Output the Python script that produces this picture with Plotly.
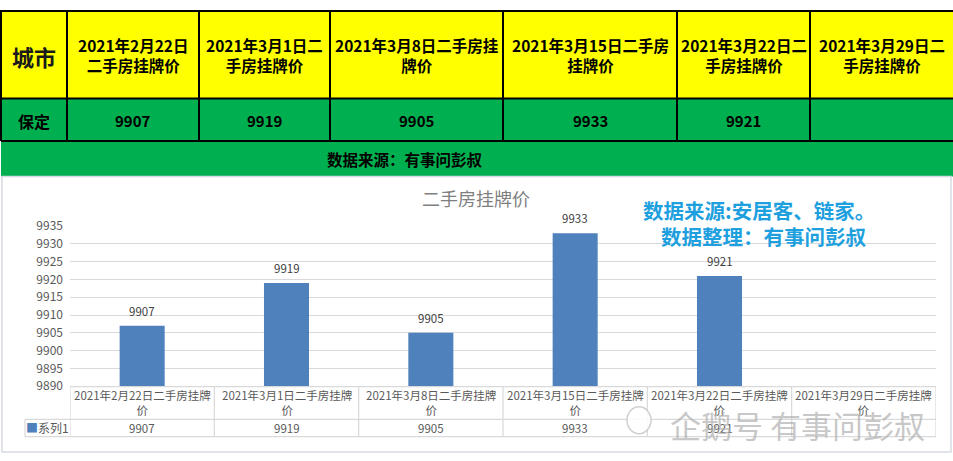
import plotly.graph_objects as go

W, H = 953, 461

# ---------------- data ----------------
city = ["保定"]
corner_label = "城市"
header_labels = [
    "2021年2月22日<br>二手房挂牌价",
    "2021年3月1日二<br>手房挂牌价",
    "2021年3月8日二手房挂<br>牌价",
    "2021年3月15日二手房<br>挂牌价",
    "2021年3月22日二<br>手房挂牌价",
    "2021年3月29日二<br>手房挂牌价",
]
categories = [
    "2021年2月22日二手房挂牌价",
    "2021年3月1日二手房挂牌价",
    "2021年3月8日二手房挂牌价",
    "2021年3月15日二手房挂牌价",
    "2021年3月22日二手房挂牌价",
    "2021年3月29日二手房挂牌价",
]
prices = [9907, 9919, 9905, 9933, 9921, None]
y_ticks = [9890, 9895, 9900, 9905, 9910, 9915, 9920, 9925, 9930, 9935]
series_name = "系列1"
chart_title = "二手房挂牌价"
banner_text = "数据来源：有事问彭叔"
note_lines = ["数据来源:安居客、链家。", "数据整理：有事问彭叔"]
watermark = "企鹅号 有事问彭叔"

# ---------------- helpers ----------------
FONT = "Noto Sans CJK SC"
def X(px):
    return px / W
def Y(py):
    return 1 - py / H

shapes = []
annotations = []

def rect(x0, y0, x1, y1, fill=None, line=None, lw=1, layer="below", kind="rect"):
    shapes.append(dict(type=kind, xref="paper", yref="paper",
                       x0=X(x0), x1=X(x1), y0=Y(y0), y1=Y(y1),
                       fillcolor=fill if fill else "rgba(0,0,0,0)",
                       line=dict(color=line if line else "rgba(0,0,0,0)", width=lw if line else 0),
                       layer=layer))

def hline(x0, x1, y, color, lw, xref="paper"):
    shapes.append(dict(type="line", xref=xref, yref="paper",
                       x0=X(x0) if xref == "paper" else x0,
                       x1=X(x1) if xref == "paper" else x1,
                       y0=Y(y), y1=Y(y), line=dict(color=color, width=lw), layer="above"))

def vline(x, y0, y1, color, lw, xref="paper"):
    xv = X(x) if xref == "paper" else x
    shapes.append(dict(type="line", xref=xref, yref="paper",
                       x0=xv, x1=xv, y0=Y(y0), y1=Y(y1),
                       line=dict(color=color, width=lw), layer="above"))

def text(x, y, s, size, color, bold=False, xanchor="center", xref="paper", yshift=0, family=FONT):
    annotations.append(dict(xref=xref, yref="paper",
                            x=X(x) if xref == "paper" else x, y=Y(y),
                            text=f"<b>{s}</b>" if bold else s,
                            showarrow=False, xanchor=xanchor, yanchor="middle",
                            font=dict(family=family, size=size, color=color),
                            align="center", yshift=yshift))

# ---------------- top table ----------------
col_edges = [1, 67, 199, 330, 503, 677, 810, 953]
rect(1, 0, 953, 92, fill="#FFFF00")
rect(1, 92, 953, 173, fill="#00B050")
for yy in [1, 92, 136]:
    hline(1, 953, yy, "#000000", 2)
for xx in col_edges[:-1]:
    vline(xx, 0, 136, "#000000", 2)

text((col_edges[0] + col_edges[1]) / 2, 48, corner_label, 22, "#1a1a1a", bold=True)
text((col_edges[0] + col_edges[1]) / 2, 115, city[0], 16, "#000000", bold=True)
for i, lab in enumerate(header_labels):
    cx = (col_edges[i + 1] + col_edges[i + 2]) / 2
    text(cx, 47, lab, 15.5, "#000000", bold=True)
    if prices[i] is not None:
        text(cx, 115, str(prices[i]), 15, "#000000", bold=True)

text(405, 155, banner_text, 15.5, "#000000", bold=True)

# ---------------- chart area ----------------
rect(2, 173, 951, 459, line="#D6DAE3", lw=1.5)
text(476, 195, chart_title, 18, "#7F7F7F")
text(759, 208, note_lines[0], 20.5, "#1E9FDE", bold=True)
text(763, 235, note_lines[1], 20.5, "#1E9FDE", bold=True)

# data labels above bars
for c, v in zip(categories, prices):
    if v is None:
        continue
    annotations.append(dict(xref="x", yref="y", x=c, y=v, text=str(v), showarrow=False,
                            yanchor="middle", yshift=15,
                            font=dict(family=FONT, size=11.5, color="#404040")))

# data table under the chart
GRID = "#D9D9D9"
n = len(categories)
hline(-0.5, n - 0.5, 391, GRID, 1.2, xref="x")
hline(25, 936, 425, GRID, 1.2)
hline(25, 936, 443, GRID, 1.2)
for k in range(n + 1):
    vline(k - 0.5, 391, 443, GRID, 1.2, xref="x")
vline(25, 425, 443, GRID, 1.2)

for c, v in zip(categories, prices):
    annotations.append(dict(xref="x", yref="paper", x=c, y=Y(408),
                            text=c[:-1] + "<br>" + c[-1], showarrow=False,
                            yanchor="middle", align="center",
                            font=dict(family=FONT, size=11.5, color="#595959")))
    if v is not None:
        annotations.append(dict(xref="x", yref="paper", x=c, y=Y(434),
                                text=str(v), showarrow=False, yanchor="middle",
                                font=dict(family=FONT, size=11.5, color="#595959")))
text(47, 434, f"<span style='color:#4F81BD'>■</span>{series_name}", 12, "#595959")

# watermark (penguin outline + text)
rect(627, 412, 651, 440, fill="rgba(255,255,255,0.85)", line="rgba(195,195,195,0.8)",
     lw=1.5, layer="above", kind="circle")
annotations.append(dict(xref="paper", yref="paper", x=X(668), y=Y(430), text=watermark,
                        showarrow=False, xanchor="left", yanchor="middle",
                        font=dict(family=FONT, size=31, color="rgba(175,175,175,0.7)")))

# ---------------- figure ----------------
fig = go.Figure()
fig.add_trace(go.Bar(x=categories, y=prices, marker=dict(color="#4F81BD", line=dict(width=0)),
                     name=series_name, showlegend=False, hoverinfo="skip"))

fig.update_layout(
    width=W, height=H,
    margin=dict(l=0, r=0, t=0, b=0),
    paper_bgcolor="#FFFFFF",
    plot_bgcolor="rgba(0,0,0,0)",
    bargap=0.688,
    shapes=shapes,
    annotations=annotations,
    font=dict(family=FONT),
    xaxis=dict(domain=[X(70), X(936)], type="category", range=[-0.5, n - 0.5],
               showticklabels=False, showgrid=False, zeroline=False, showline=False,
               categoryorder="array", categoryarray=categories),
    yaxis=dict(domain=[Y(390.7), Y(224.3)], range=[9890, 9935], tickvals=y_ticks,
               tickformat="d",
               showgrid=True, gridcolor="#D9D9D9", gridwidth=1.2, zeroline=False,
               showline=False, ticks="", ticklabelstandoff=6,
               tickfont=dict(family=FONT, size=12, color="#595959")),
)

fig.write_html("out.html", config={"displayModeBar": False},
               post_script="document.body.style.margin='0';document.body.style.overflow='hidden';")
